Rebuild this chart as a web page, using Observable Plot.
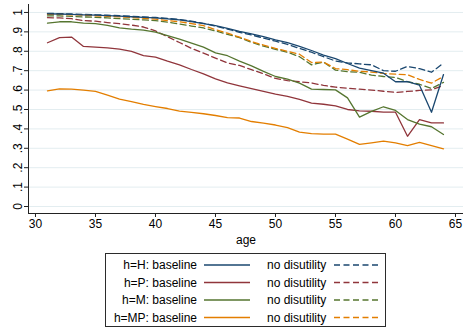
<!DOCTYPE html>
<html>
<head>
<meta charset="utf-8">
<script src="https://cdn.jsdelivr.net/npm/d3@7"></script>
<script src="https://cdn.jsdelivr.net/npm/@observablehq/plot@0.6"></script>
<style>
  html, body { margin: 0; padding: 0; background: #fff; }
  body { width: 463px; height: 328px; position: relative; overflow: hidden;
         font-family: "Liberation Sans", Arial, Helvetica, sans-serif; }
  #legend { position: absolute; left: 105px; top: 253px; width: 279px; height: 72px;
            border: 1px solid #2b2b2b; font-size: 12px; color: #000; }
  #legend svg { position: absolute; left: 0; top: 0; }
</style>
</head>
<body>
<div id="chart"></div>
<div id="legend"></div>
<script>
// ---- data ----
const ages = [31,32,33,34,35,36,37,38,39,40,41,42,43,44,45,46,47,48,49,50,51,52,53,54,55,56,57,58,59,60,61,62,63,64];

const H_base = [0.993,0.992,0.990,0.988,0.986,0.984,0.981,0.978,0.975,0.972,0.967,0.962,0.953,0.943,0.932,0.918,0.903,0.890,0.876,0.859,0.844,0.825,0.804,0.780,0.762,0.737,0.713,0.700,0.687,0.643,0.643,0.625,0.486,0.680];
const H_nodis = [0.995,0.994,0.992,0.990,0.988,0.986,0.983,0.980,0.977,0.974,0.969,0.964,0.955,0.944,0.930,0.914,0.898,0.884,0.868,0.852,0.835,0.815,0.795,0.772,0.750,0.740,0.735,0.730,0.700,0.697,0.722,0.710,0.692,0.739];
const P_base = [0.844,0.870,0.873,0.825,0.821,0.818,0.811,0.800,0.778,0.770,0.749,0.730,0.706,0.684,0.658,0.637,0.622,0.607,0.593,0.579,0.567,0.552,0.533,0.527,0.519,0.500,0.493,0.491,0.486,0.486,0.362,0.448,0.431,0.431];
const P_nodis = [0.973,0.972,0.968,0.958,0.955,0.948,0.942,0.935,0.925,0.905,0.875,0.845,0.815,0.790,0.765,0.740,0.727,0.705,0.684,0.660,0.649,0.643,0.637,0.624,0.615,0.610,0.605,0.600,0.594,0.588,0.593,0.598,0.601,0.624];
const M_base = [0.945,0.952,0.952,0.945,0.942,0.933,0.921,0.914,0.909,0.899,0.881,0.862,0.842,0.821,0.792,0.777,0.749,0.725,0.696,0.670,0.656,0.636,0.605,0.603,0.601,0.560,0.461,0.490,0.514,0.495,0.448,0.425,0.411,0.371];
const M_nodis = [0.982,0.982,0.980,0.977,0.975,0.972,0.968,0.965,0.962,0.958,0.950,0.940,0.930,0.920,0.905,0.887,0.870,0.846,0.826,0.810,0.795,0.772,0.730,0.744,0.703,0.695,0.692,0.677,0.670,0.665,0.643,0.630,0.608,0.640];
const MP_base = [0.596,0.606,0.605,0.600,0.593,0.574,0.553,0.541,0.526,0.515,0.505,0.492,0.485,0.478,0.469,0.458,0.456,0.438,0.430,0.420,0.406,0.383,0.376,0.373,0.373,0.347,0.320,0.328,0.337,0.328,0.314,0.330,0.314,0.297];
const MP_nodis = [0.990,0.990,0.988,0.986,0.983,0.980,0.977,0.974,0.970,0.966,0.958,0.952,0.943,0.932,0.912,0.893,0.873,0.850,0.832,0.815,0.800,0.785,0.742,0.744,0.711,0.705,0.697,0.693,0.686,0.682,0.679,0.655,0.636,0.670];

const seriesNames = ["h=H", "h=P", "h=M", "h=MP"];
const seriesColors = ["#1a476f", "#90353b", "#55752f", "#e37e00"];
const xTicks = [30,35,40,45,50,55,60,65];
const yTicks = [0,0.1,0.2,0.3,0.4,0.5,0.6,0.7,0.8,0.9,1];
const xLabel = "age";
const legendBaseline = "baseline";
const legendNoDis = "no disutility";

// ---- tables built from the arrays ----
const baseArrays = [H_base, P_base, M_base, MP_base];
const nodisArrays = [H_nodis, P_nodis, M_nodis, MP_nodis];
const solid = [], dashed = [];
seriesNames.forEach((s, i) => {
  ages.forEach((a, j) => {
    solid.push({age: a, value: baseArrays[i][j], series: s});
    dashed.push({age: a, value: nodisArrays[i][j], series: s});
  });
});

const fmtY = d => d === 0 ? "0" : d === 1 ? "1" : d3.format(".1f")(d).slice(1);

const chart = Plot.plot({
  width: 463,
  height: 250,
  marginLeft: 28,
  marginRight: 0,
  marginTop: 4,
  marginBottom: 37,
  style: {fontFamily: '"Liberation Sans", Arial, Helvetica, sans-serif', fontSize: "12px", color: "#000", background: "#fff"},
  x: {domain: [29.4167, 65.6667]},
  y: {domain: [-0.036, 1.041]},
  color: {domain: seriesNames, range: seriesColors},
  marks: [
    Plot.gridY(yTicks, {stroke: "#e3edf0", strokeOpacity: 1, strokeWidth: 1}),
    Plot.line(dashed, {x: "age", y: "value", z: "series", stroke: "series", strokeWidth: 1.3, strokeDasharray: "6,3.5"}),
    Plot.line(solid, {x: "age", y: "value", z: "series", stroke: "series", strokeWidth: 1.3}),
    Plot.axisX(xTicks, {tickSize: 4, tickPadding: 2, label: xLabel, labelAnchor: "center", labelArrow: "none", labelOffset: 30, fontSize: 12, stroke: "#222"}),
    Plot.axisY(yTicks, {tickSize: 4, tickPadding: 3, tickRotate: -90, tickFormat: fmtY, label: null, fontSize: 12, stroke: "#222"}),
    Plot.frame({anchor: "bottom", stroke: "#222"}),
    Plot.frame({anchor: "left", stroke: "#222"})
  ]
});
document.getElementById("chart").appendChild(chart);

// ---- legend (HTML/SVG below the plot) ----
const lg = d3.select("#legend").append("svg").attr("width", 279).attr("height", 72)
  .style("font-family", '"Liberation Sans", Arial, Helvetica, sans-serif').style("font-size", "12px");
seriesNames.forEach((s, i) => {
  const cy = 11 + i * 17.5;
  lg.append("text").attr("x", 91).attr("y", cy).attr("dy", "0.36em").attr("text-anchor", "end").attr("fill", "#000").text(`${s}: ${legendBaseline}`);
  lg.append("line").attr("x1", 98).attr("x2", 144).attr("y1", cy).attr("y2", cy).attr("stroke", seriesColors[i]).attr("stroke-width", 1.3);
  lg.append("text").attr("x", 161).attr("y", cy).attr("dy", "0.36em").attr("fill", "#000").text(legendNoDis);
  lg.append("line").attr("x1", 228).attr("x2", 275).attr("y1", cy).attr("y2", cy).attr("stroke", seriesColors[i]).attr("stroke-width", 1.3).attr("stroke-dasharray", "6,3.5");
});
</script>
</body>
</html>
